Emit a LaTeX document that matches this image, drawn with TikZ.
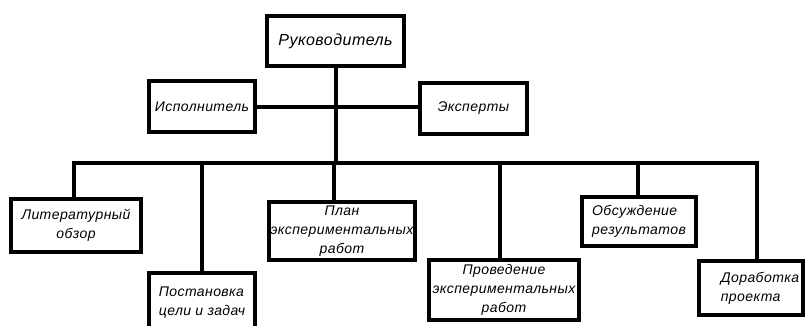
\documentclass[tikz,border=0pt]{standalone}
\usepackage{fontspec}
\setmainfont{Liberation Sans}
\newfontfamily\orgfont[LetterSpace=3]{Liberation Sans}
\usetikzlibrary{calc}

\begin{document}
\begin{tikzpicture}[x=1pt, y=-1pt,
        box/.style={draw, line width=4.5pt, inner sep=0pt, align=center,
            font=\orgfont\itshape\fontsize{14}{19}\selectfont},
        boxtext/.style={inner sep=0pt, align=left,
            font=\orgfont\itshape\fontsize{14}{19}\selectfont},
        link/.style={line width=4pt}]
        \useasboundingbox (0,0) rectangle (807,325);
        \clip (0,0) rectangle (807,325);

        % Head
        \node[box, minimum width=137pt, minimum height=50pt,
            font=\orgfont\itshape\fontsize{16}{19}\selectfont] (ruk) at (335.5,41) {Руководитель};

        % Side boxes
        \node[box, minimum width=106pt, minimum height=51pt] (isp) at (202,106.5) {Исполнитель};
        \node[box, minimum width=107pt, minimum height=51pt] (eksp) at (473.5,108.5) {Эксперты};

        % Stages
        \node[box, minimum width=130pt, minimum height=53pt] (lit) at (76,225.5) {Литературный\\обзор};
        \node[box, minimum width=106pt, minimum height=60pt, align=left] (post) at (202,303) {Постановка\\цели и задач};
        \node[box, minimum width=146pt, minimum height=58pt] (plan) at (342,231) {План\\экспериментальных\\работ};
        \node[box, minimum width=150pt, minimum height=60pt] (prov) at (504,290) {Проведение\\экспериментальных\\работ};
        \node[box, minimum width=114pt, minimum height=49pt, align=left] (obs) at (639,221.5) {Обсуждение\\результатов};
        \node[box, minimum width=104pt, minimum height=54pt] (dor) at (751,288) {};
        \node[boxtext] (dortext) at ($(dor)+(9,0)$) {Доработка\\проекта};

        % Bus
        \coordinate (dlit) at (74,163);
        \coordinate (dpost) at (202,163);
        \coordinate (dplan) at (334,163);
        \coordinate (dprov) at (500,163);
        \coordinate (dobs) at (638,163);
        \coordinate (ddor) at (757,163);

        % Lines
        \draw[link] (ruk.south) -- (ruk.south |- dlit);
        \draw[link] (isp.east) -- (isp.east -| eksp.west);
        \draw[link] (dlit |- lit.north) -- (dlit) -- (ddor) -- (ddor |- dor.north);
        \foreach \n in {post,plan,prov,obs}
            \draw[link] (d\n) -- (d\n |- \n.north);
    \end{tikzpicture}
\end{document}
